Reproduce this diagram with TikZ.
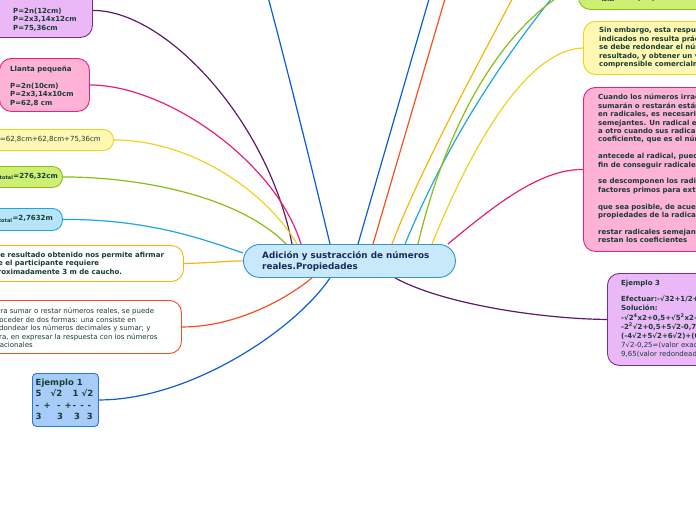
\documentclass[tikz,border=0pt]{standalone}
\usepackage{fontspec}
\setmainfont{DejaVu Sans}
\usetikzlibrary{backgrounds}
\definecolor{tx}{HTML}{173D33}
\definecolor{ctx}{HTML}{1B2A5A}
\definecolor{purF}{HTML}{EBB8F7}
\definecolor{purD}{HTML}{7E2C91}
\definecolor{purL}{HTML}{5B1A6B}
\definecolor{pinkF}{HTML}{FDB2D6}
\definecolor{pinkD}{HTML}{E8207A}
\definecolor{yelF}{HTML}{FFF8B3}
\definecolor{yelD}{HTML}{EDD41E}
\definecolor{grnF}{HTML}{CDEF74}
\definecolor{grnD}{HTML}{8CBD14}
\definecolor{lbF}{HTML}{B5E4FB}
\definecolor{lbD}{HTML}{1EA5E3}
\definecolor{orD}{HTML}{F5B50C}
\definecolor{redD}{HTML}{F4511E}
\definecolor{bluF}{HTML}{A8CCF8}
\definecolor{bluD}{HTML}{2A78D6}
\definecolor{bluL}{HTML}{0B5ED7}
\definecolor{cenF}{HTML}{C7E9FA}
\definecolor{cenD}{HTML}{3594D0}
\begin{document}
\begin{tikzpicture}[x=1pt,y=-1pt,
 box/.style={rectangle, rounded corners=12pt, line width=0.9pt, inner sep=0pt, anchor=north west},
 txt/.style={inner sep=0pt, anchor=north west, align=left, text=tx, font=\fontsize{7}{8.4}\selectfont\bfseries},
 txn/.style={txt, font=\fontsize{7}{8.4}\selectfont},
 link/.style={line width=1.2pt}]
\useasboundingbox (0,0) rectangle (696,520);
\clip (0,0) rectangle (696,520);

% left side
\node[box, fill=purF, draw=purD, minimum width=115pt, minimum height=54pt] (n1) at (-23,-17) {};
\node[txt] (t1) at (13,8) {P=2n(12cm)\\P=2x3,14x12cm\\P=75,36cm};

\node[box, fill=pinkF, draw=pinkD, minimum width=90pt, minimum height=53pt] (n2) at (-1,58) {};
\node[txt] (t2) at (10,66) {Llanta pequeña\\[8.4pt]P=2n(10cm)\\P=2x3,14x10cm\\P=62,8 cm};

\node[box, rounded corners=10pt, fill=yelF, draw=yelD, minimum width=133pt, minimum height=21pt] (n3) at (-20,129) {};
\node[txn, anchor=east] (t3) at (101,139.5) {P\textsubscript{total}=62,8cm+62,8cm+75,36cm};

\node[box, rounded corners=10pt, fill=grnF, draw=grnD, minimum width=82pt, minimum height=21pt] (n4) at (-20,166) {};
\node[txt, anchor=east] (t4) at (58,176.5) {P\textsubscript{total}=276,32cm};

\node[box, rounded corners=10pt, fill=lbF, draw=lbD, minimum width=82pt, minimum height=22pt] (n5) at (-20,208) {};
\node[txt, anchor=east] (t5) at (53,219) {P\textsubscript{total}=2,7632m};

\node[box, fill=white, draw=orD, minimum width=213pt, minimum height=36pt] (n6) at (-30,245) {};
\node[txt] (t6) at (-12,252) {Este resultado obtenido nos permite afirmar\\que el participante requiere\\aproximadamente 3 m de caucho.};

\node[box, fill=white, draw=redD, minimum width=211pt, minimum height=53pt] (n7) at (-30,300) {};
\node[txn] (t7) at (-8,308) {Para sumar o restar números reales, se puede\\proceder de dos formas: una consiste en\\redondear los números decimales y sumar; y\\otra, en expresar la respuesta con los números\\irracionales};

\node[box, rounded corners=4pt, fill=bluF, draw=bluD, minimum width=66pt, minimum height=53pt] (n8) at (32,373) {};
\node[txt, font=\fontsize{8.5}{11.3}\selectfont\bfseries] (t8) at (35.5,379) {Ejemplo 1\\\makebox[15pt][l]{5}\makebox[22pt][l]{√2}\makebox[9pt][l]{1}√2\\\makebox[8pt][l]{-}\makebox[13.5pt][l]{+}\makebox[7.5pt][l]{-}\makebox[8pt][l]{+}\makebox[7.7pt][l]{-}\makebox[7.3pt][l]{-}-\\\makebox[21.3pt][l]{3}\makebox[17pt][l]{3}\makebox[13pt][l]{3}3};

% centre
\node[box, rounded corners=16.5pt, fill=cenF, draw=cenD, minimum width=212pt, minimum height=33pt] (c) at (243,244) {};
\node[txt, text=ctx, font=\fontsize{8.8}{11}\selectfont\bfseries] (tc) at (262,251.5) {Adición y sustracción de números\\reales.Propiedades};

% right side
\node[box, fill=grnF, draw=grnD, minimum width=142pt, minimum height=49pt] (n9) at (578,-40) {};
\node[txt] (t9) at (596,-5) {P\textsubscript{total}=3cm(cm)};

\node[box, fill=yelF, draw=yelD, minimum width=137pt, minimum height=53pt] (n10) at (583,21) {};
\node[txt] (t10) at (599,27) {Sin embargo, esta respuesta con los números\\indicados no resulta práctica, por lo que\\se debe redondear el número obtenido como\\resultado, y obtener un valor más\\comprensible comercialmente.};

\node[box, fill=pinkF, draw=pinkD, minimum width=137pt, minimum height=164pt] (n11) at (583,87) {};
\node[txt] (t11) at (598,94) {Cuando los números irracionales se\\sumarán o restarán están expresados\\en radicales, es necesario que sean\\semejantes. Un radical es semejante\\a otro cuando sus radicandos y\\coeficiente, que es el número que\\[8.4pt]antecede al radical, pueden simplificarse a\\fin de conseguir radicales semejantes\\[8.4pt]se descomponen los radicandos en\\factores primos para extraer\\[8.4pt]que sea posible, de acuerdo con las\\propiedades de la radicación\\[8.4pt]restar radicales semejantes, se suman o\\restan los coeficientes};

\node[box, fill=purF, draw=purD, minimum width=113pt, minimum height=92pt] (n12) at (607,273) {};
\node[txt, font=\fontsize{7}{9.2}\selectfont\bfseries] (t12) at (621,280) {Ejemplo 3\\[7pt]Efectuar:-√32+1/2+√50-0,75+√72\\Solución:\\-√2\textsuperscript{4}x2+0,5+√5\textsuperscript{2}x2-0,75+√6\textsuperscript{2}x2\\-2\textsuperscript{2}√2+0,5+5√2-0,75+6√2\\(-4√2+5√2+6√2)+(0,5-0,75)\\\mdseries 7√2-0,25=(valor exacto)\\\mdseries 9,65(valor redondeado)};

\coordinate (e1) at (262,-25);
\coordinate (e2) at (436,-25);
\coordinate (e3) at (452,-25);
\coordinate (e4) at (525,-25);
\coordinate (e5) at (575,-30);

\begin{scope}[on background layer]
\clip (0,0) rectangle (696,520);
\draw[link, purL] (n1.east) .. controls (165,10) and (268,120) .. ([xshift=49pt]c.north west);
\draw[link, pinkD] (n2.east) .. controls (165,85) and (275,160) .. ([xshift=58pt]c.north west);
\draw[link, yelD] (n3.east) .. controls (190,140) and (265,190) .. ([xshift=54pt]c.north west);
\draw[link, grnD] (n4.east) .. controls (150,177) and (245,200) .. ([xshift=45pt,yshift=-2pt]c.north west);
\draw[link, lbD] (n5.east) .. controls (150,219) and (205,240) .. ([yshift=8pt]c.west);
\draw[link, orD] (n6.east) .. controls (210,263) and (225,261) .. (c.west);
\draw[link, redD] (n7.east) .. controls (235,327) and (285,300) .. ([xshift=69pt]c.south west);
\draw[link, bluL] (n8.east) .. controls (190,400) and (295,330) .. ([xshift=87pt]c.south west);
\draw[link, bluL] ([xshift=87pt]c.north west) .. controls (310,160) and (280,40) .. (e1);
\draw[link, bluL] ([xshift=115pt]c.north west) -- (e2);
\draw[link, redD] ([xshift=130pt]c.north west) -- (e3);
\draw[link, orD] ([xshift=149pt]c.north west) .. controls (420,170) and (480,60) .. (e4);
\draw[link, lbD] ([xshift=162pt]c.north west) .. controls (440,160) and (490,70) .. (e5);
\draw[link, grnD] ([xshift=175pt]c.north west) .. controls (440,150) and (490,30) .. (n9.west);
\draw[link, yelD] ([xshift=189pt]c.north west) .. controls (470,150) and (525,50) .. (n10.west);
\draw[link, pinkD] ([xshift=-8pt]c.north east) .. controls (495,205) and (540,169) .. (n11.west);
\draw[link, purL] ([xshift=152pt]c.south west) .. controls (445,305) and (545,319) .. (n12.west);
\end{scope}
\end{tikzpicture}
\end{document}
